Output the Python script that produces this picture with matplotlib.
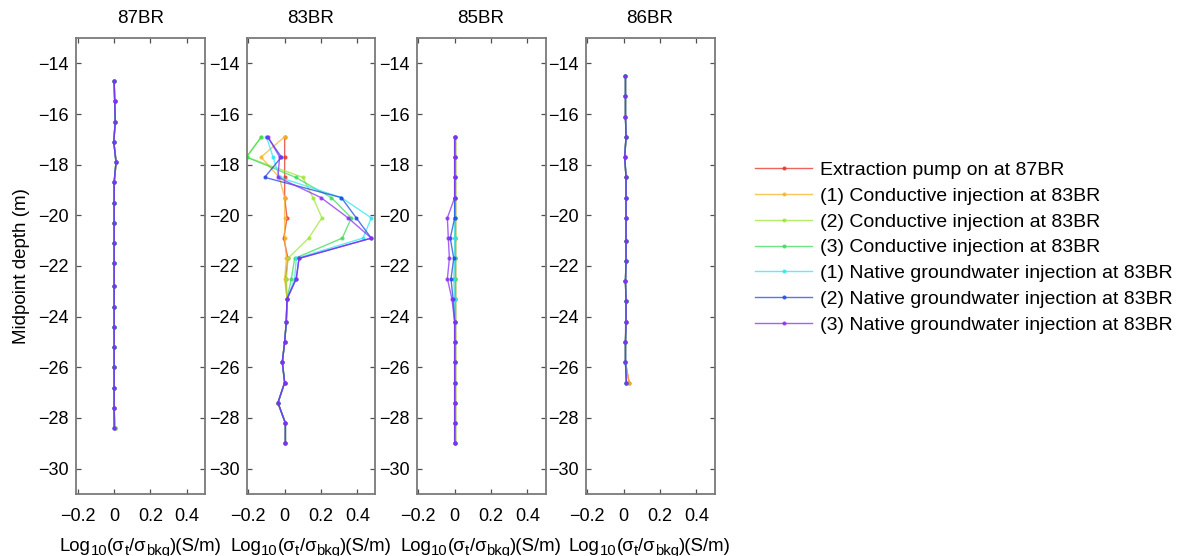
import numpy as np
import matplotlib
matplotlib.use('Agg')
import matplotlib.pyplot as plt

plt.rcParams['font.family'] = ['Liberation Sans', 'DejaVu Sans']

wells = ['87BR', '83BR', '85BR', '86BR']
labels = ['Extraction pump on at 87BR',
          '(1) Conductive injection at 83BR',
          '(2) Conductive injection at 83BR',
          '(3) Conductive injection at 83BR',
          '(1) Native groundwater injection at 83BR',
          '(2) Native groundwater injection at 83BR',
          '(3) Native groundwater injection at 83BR']
colors = ['#e8302a', '#f5b526', '#9fe63a', '#3ddc5a', '#2fe6f2', '#2146e8', '#8a2ef0']

depth_87 = [-14.7, -15.5, -16.3, -17.1, -17.9, -18.7, -19.5, -20.3, -21.1,
            -21.9, -22.8, -23.6, -24.4, -25.2, -26.0, -26.8, -27.6, -28.4]
depth_83 = [-16.9, -17.7, -18.5, -19.3, -20.1, -20.9, -21.7, -22.5,
            -23.3, -24.2, -25.0, -25.8, -26.6, -27.4, -28.2, -29.0]
depth_85 = [-16.9, -17.7, -18.5, -19.3, -20.1, -20.9, -21.7, -22.5,
            -23.3, -24.2, -25.0, -25.8, -26.6, -27.4, -28.2, -29.0]
depth_86 = [-14.5, -15.3, -16.1, -16.9, -17.7, -18.5, -19.3, -20.1,
            -21.0, -21.8, -22.6, -23.4, -24.2, -25.0, -25.8, -26.6]

# 87BR: all runs nearly identical
x87 = [
    [0.0, 0.003, 0.006, -0.002, 0.012, 0.0, 0.0, 0.0, 0.0, 0.0, 0.0, 0.0, 0.0, 0.0, 0.0, 0.0, 0.0, 0.005],
    [0.0, 0.003, 0.006, -0.002, 0.011, 0.0, 0.0, 0.0, 0.0, 0.0, 0.0, 0.0, 0.0, 0.0, 0.0, 0.0, 0.0, 0.004],
    [0.0, 0.003, 0.006, -0.002, 0.011, 0.0, 0.0, 0.0, 0.0, 0.0, 0.0, 0.0, 0.0, 0.0, 0.0, 0.0, 0.0, 0.003],
    [0.0, 0.003, 0.006, -0.002, 0.010, 0.0, 0.0, 0.0, 0.0, 0.0, 0.0, 0.0, 0.0, 0.0, 0.0, 0.0, 0.0, 0.002],
    [0.0, 0.003, 0.006, -0.002, 0.010, 0.0, 0.0, 0.0, 0.0, 0.0, 0.0, 0.0, 0.0, 0.0, 0.0, 0.0, 0.0, 0.0],
    [0.0, 0.003, 0.006, -0.002, 0.010, 0.0, 0.0, 0.0, 0.0, 0.0, 0.0, 0.0, 0.0, 0.0, 0.0, 0.0, 0.0, 0.0],
    [0.0, 0.003, 0.006, -0.002, 0.010, 0.0, 0.0, 0.0, 0.0, 0.0, 0.0, 0.0, 0.0, 0.0, 0.0, 0.0, 0.0, 0.0],
]
# 83BR: injection well, big response between -18 and -22 m
x83 = [
    [0.0, 0.0, 0.0, 0.0, 0.013, -0.005, 0.018, 0.005, 0.013, 0.009, 0.0, -0.013, 0.0, -0.037, 0.004, 0.004],
    [0.0, -0.13, -0.03, 0.0, 0.0, 0.0, 0.01, 0.0, 0.013, 0.009, 0.0, -0.013, 0.0, -0.037, 0.004, 0.004],
    [-0.128, -0.21, 0.10, 0.156, 0.205, 0.132, 0.018, 0.01, 0.013, 0.009, 0.0, -0.013, 0.0, -0.037, 0.004, 0.004],
    [-0.128, -0.21, 0.06, 0.257, 0.367, 0.317, 0.055, 0.037, 0.013, 0.009, 0.0, -0.013, 0.0, -0.037, 0.004, 0.004],
    [-0.10, -0.064, -0.028, 0.312, 0.477, 0.431, 0.064, 0.055, 0.013, 0.009, 0.0, -0.013, 0.0, -0.037, 0.004, 0.004],
    [-0.095, -0.018, -0.11, 0.312, 0.394, 0.477, 0.079, 0.064, 0.013, 0.009, 0.0, -0.013, 0.0, -0.037, 0.004, 0.004],
    [-0.092, -0.028, -0.037, 0.20, 0.349, 0.477, 0.079, 0.064, 0.013, 0.009, 0.0, -0.013, 0.0, -0.037, 0.004, 0.004],
]
# 85BR
x85 = [
    [0.0, 0.0, 0.0, 0.0, 0.0, 0.0, 0.0, 0.0, 0.0, 0.0, 0.0, 0.0, 0.0, 0.0, 0.0, 0.0],
    [0.0, 0.0, 0.0, 0.0, 0.0, 0.0, 0.0, 0.0, 0.0, 0.0, 0.0, 0.0, 0.0, 0.0, 0.0, 0.0],
    [0.0, 0.0, 0.0, 0.0, 0.0, 0.0, 0.0, 0.0, 0.0, 0.0, 0.0, 0.0, 0.0, 0.0, 0.0, 0.0],
    [0.0, 0.0, 0.0, 0.0, 0.0, 0.0, 0.0, 0.0, 0.0, 0.0, 0.0, 0.0, 0.0, 0.0, 0.0, 0.0],
    [0.0, 0.0, 0.0, 0.0, 0.0, 0.0, 0.0, -0.005, 0.0, 0.0, 0.0, 0.0, 0.0, 0.0, 0.0, 0.0],
    [0.0, 0.0, 0.0, 0.0, 0.0, -0.024, -0.005, -0.02, -0.009, 0.0, 0.0, 0.0, 0.0, 0.0, 0.0, 0.0],
    [0.0, 0.0, 0.0, 0.0, -0.04, -0.035, -0.029, -0.04, -0.015, 0.0, 0.0, 0.0, 0.0, 0.0, 0.0, 0.0],
]
# 86BR
x86 = [
    [0.01, 0.01, 0.01, 0.013, 0.006, 0.013, 0.013, 0.013, 0.013, 0.013, 0.01, 0.013, 0.011, 0.01, 0.01, 0.03],
    [0.01, 0.01, 0.01, 0.013, 0.006, 0.013, 0.013, 0.013, 0.013, 0.013, 0.01, 0.013, 0.013, 0.01, 0.01, 0.03],
    [0.01, 0.01, 0.01, 0.013, 0.006, 0.013, 0.013, 0.013, 0.013, 0.013, 0.01, 0.013, 0.013, 0.01, 0.01, 0.015],
    [0.01, 0.01, 0.01, 0.013, 0.006, 0.013, 0.013, 0.013, 0.013, 0.013, 0.01, 0.013, 0.013, 0.01, 0.01, 0.015],
    [0.01, 0.01, 0.01, 0.013, 0.006, 0.013, 0.013, 0.013, 0.013, 0.013, 0.01, 0.013, 0.013, 0.01, 0.01, 0.015],
    [0.01, 0.01, 0.01, 0.013, 0.006, 0.013, 0.013, 0.013, 0.013, 0.013, 0.01, 0.013, 0.013, 0.01, 0.01, 0.015],
    [0.01, 0.01, 0.01, 0.013, 0.006, 0.013, 0.013, 0.013, 0.013, 0.013, 0.01, 0.013, 0.013, 0.01, 0.01, 0.015],
]

# x label pieces, (text, is_subscript)
xlabel_parts = [('Log', False), ('10', True), ('(\u03c3', False), ('t', True),
                ('/\u03c3', False), ('bkg', True), (')(S/m)', False)]

depths = [depth_87, depth_83, depth_85, depth_86]
xvals = [x87, x83, x85, x86]

fig = plt.figure(figsize=(11.77, 5.56), dpi=100)
renderer = fig.canvas.get_renderer()
lefts = [76, 246.5, 416.5, 585.5]
W, H = 1177.0, 556.0
frame = '#7a7a7a'
fs = 13


def sub_label(ax, parts, size, base_px):
    # lay the label out piece by piece so subscripts can be bigger than mathtext's
    items = []
    for s, sub in parts:
        t = fig.text(0, 0, s, fontsize=size * 0.8 if sub else size, va='baseline', ha='left')
        items.append((t, sub, t.get_window_extent(renderer).width))
    total = sum(w for _, _, w in items)
    bb = ax.get_position()
    x = (bb.x0 + bb.x1) / 2 * W - total / 2
    for t, sub, w in items:
        y = base_px - 4 if sub else base_px
        t.set_position((x / W, y / H))
        x += w


for i, well in enumerate(wells):
    ax = fig.add_axes([lefts[i] / W, 1 - 494 / H, 129 / W, (494 - 38) / H])
    for j in range(len(labels)):
        ax.plot(xvals[i][j], depths[i], color=colors[j], lw=1.0, alpha=0.75,
                marker='.', ms=4, label=labels[j])
    ax.set_xlim(-0.21, 0.5)
    ax.set_ylim(-31, -13)
    ax.set_xticks([-0.2, 0, 0.2, 0.4])
    ax.set_xticklabels(['\u22120.2', '0', '0.2', '0.4'])
    ax.set_yticks(np.arange(-30, -13, 2))
    ax.tick_params(direction='in', top=True, right=True, length=3.5, width=0.9,
                   color='#505050', labelsize=fs, pad=5)
    ax.tick_params(axis='x', pad=10)
    for s in ax.spines.values():
        s.set_color(frame)
        s.set_linewidth(1.3)
    ax.set_title(well, fontsize=13.5, pad=11)
    sub_label(ax, xlabel_parts, 13.4, 5)
    if i == 0:
        ax.set_ylabel('Midpoint depth (m)', fontsize=13.5, labelpad=6)
    if i == 1:
        handles, labs = ax.get_legend_handles_labels()

fig.legend(handles, labs, loc='upper left', bbox_to_anchor=(0.6415, 0.7095),
           frameon=False, fontsize=14, handlelength=2.93, handletextpad=0.41,
           labelspacing=0.42, borderpad=0, borderaxespad=0)

fig.savefig('out.png', dpi=100)
